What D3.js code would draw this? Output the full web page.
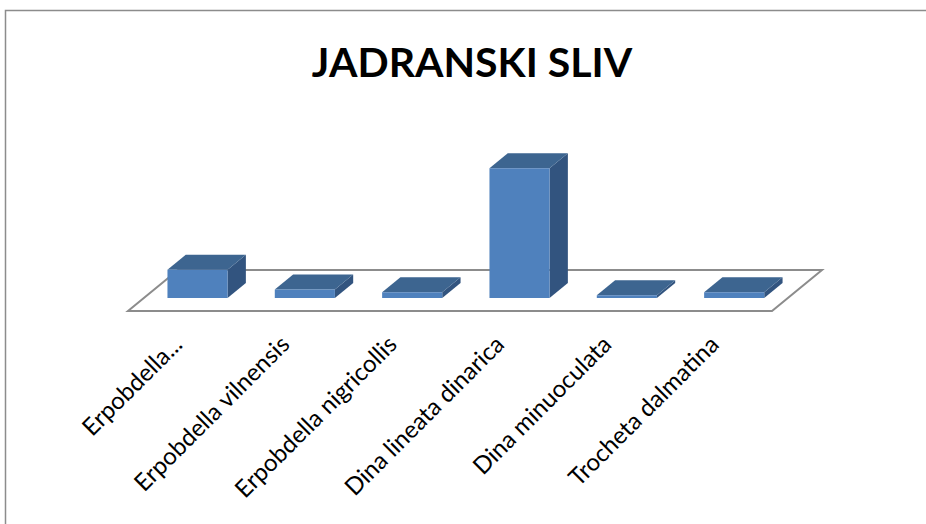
<!DOCTYPE html>
<html>
<head>
<meta charset="utf-8">
<script src="https://cdn.jsdelivr.net/npm/d3@7/dist/d3.min.js"></script>
<style>
    html, body { margin: 0; padding: 0; background: #fff; }
    svg { display: block; }
</style>
</head>
<body>
<div id="chart"></div>
<script>
"use strict";

// data
const chartTitle = "JADRANSKI SLIV";
const categories = [
    "Erpobdella...",
    "Erpobdella vilnensis",
    "Erpobdella nigricollis",
    "Dina lineata dinarica",
    "Dina minuoculata",
    "Trocheta dalmatina"
];
const values = [10, 3, 2, 46, 1, 2];

function drawChart() {
    const width = 926;
    const height = 524;
    const svg = d3.select("#chart").append("svg")
        .attr("width", width)
        .attr("height", height);

    // chart area border (runs off the right and bottom edges)
    svg.append("rect")
        .attr("x", 5.5).attr("y", 10.5)
        .attr("width", width + 20).attr("height", height + 20)
        .attr("fill", "#fff")
        .attr("stroke", "#8c8c8c")
        .attr("stroke-width", 1.5);

    svg.append("text")
        .attr("x", 472).attr("y", 77)
        .attr("text-anchor", "middle")
        .attr("font-family", "Lato, 'Open Sans', sans-serif")
        .attr("font-weight", "bold")
        .attr("font-size", 41)
        .attr("fill", "#000")
        .text(chartTitle);

    // floor front edge and depth vector
    const floorY = 311;
    const depth = {dx: 50, dy: -41};
    const barFront = 0.317, barBack = 0.683;

    const x = d3.scaleBand()
        .domain(categories)
        .range([128, 772])
        .paddingInner(0.44)
        .paddingOuter(0.22);
    const y = d3.scaleLinear()
        .domain([0, 50])
        .range([0, 141]);

    const floor = [
        [x.range()[0], floorY],
        [x.range()[1], floorY],
        [x.range()[1] + depth.dx, floorY + depth.dy],
        [x.range()[0] + depth.dx, floorY + depth.dy]
    ];
    svg.append("polygon")
        .attr("points", floor.map(p => p.join(",")).join(" "))
        .attr("fill", "#fff")
        .attr("stroke", "#8c8c8c")
        .attr("stroke-width", 2);

    const bars = svg.append("g").selectAll("g")
        .data(categories.map((c, i) => ({name: c, value: values[i]})))
        .join("g");

    function facePoints(d) {
        const x0 = x(d.name) + depth.dx * barFront;
        const x1 = x0 + x.bandwidth();
        const yb = floorY + depth.dy * barFront;
        const yt = yb - y(d.value);
        const ox = depth.dx * (barBack - barFront);
        const oy = depth.dy * (barBack - barFront);
        return {
            front: [[x0, yb], [x1, yb], [x1, yt], [x0, yt]],
            top: [[x0, yt], [x1, yt], [x1 + ox, yt + oy], [x0 + ox, yt + oy]],
            side: [[x1, yb], [x1 + ox, yb + oy], [x1 + ox, yt + oy], [x1, yt]]
        };
    }
    const toPts = ps => ps.map(p => p.join(",")).join(" ");

    bars.append("polygon")
        .attr("points", d => toPts(facePoints(d).side))
        .attr("fill", "#32547f");
    bars.append("polygon")
        .attr("points", d => toPts(facePoints(d).top))
        .attr("fill", "#3d6590");
    bars.append("polygon")
        .attr("points", d => toPts(facePoints(d).front))
        .attr("fill", "#4f81bd");

    // category labels, rotated
    svg.append("g").selectAll("text")
        .data(categories)
        .join("text")
        .attr("transform", d => "translate(" + (x(d) + x.bandwidth() / 2 + 2) + ",346) rotate(-45)")
        .attr("text-anchor", "end")
        .attr("font-family", "Lato, 'Open Sans', sans-serif")
        .attr("font-size", 24)
        .attr("fill", "#000")
        .text(d => d);
}

drawChart();
</script>
</body>
</html>
